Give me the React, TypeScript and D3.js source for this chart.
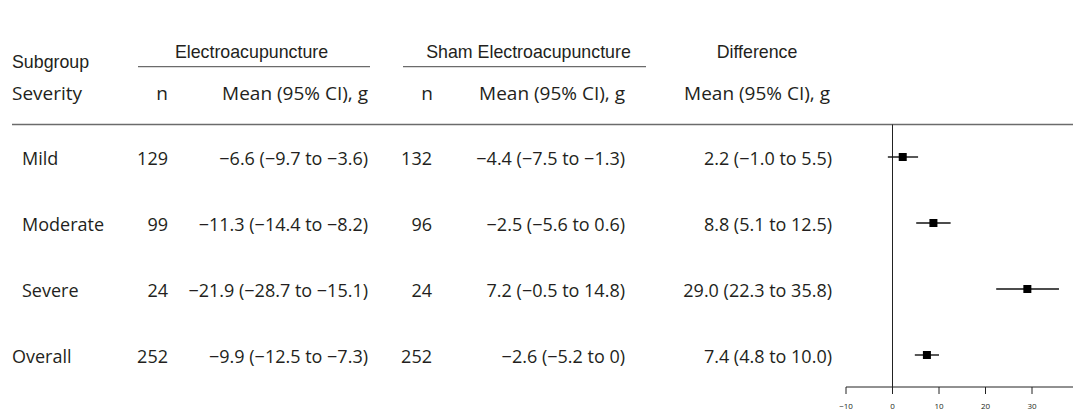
import React from "react";
import * as d3 from "d3";

const categories = ["Mild", "Moderate", "Severe", "Overall"];
const eaN = [129, 99, 24, 252];
const eaMean = [-6.6, -11.3, -21.9, -9.9];
const eaLo = [-9.7, -14.4, -28.7, -12.5];
const eaHi = [-3.6, -8.2, -15.1, -7.3];
const shamN = [132, 96, 24, 252];
const shamMean = [-4.4, -2.5, 7.2, -2.6];
const shamLo = [-7.5, -5.6, -0.5, -5.2];
const shamHi = [-1.3, 0.6, 14.8, 0];
const diffMean = [2.2, 8.8, 29.0, 7.4];
const diffLo = [-1.0, 5.1, 22.3, 4.8];
const diffHi = [5.5, 12.5, 35.8, 10.0];
const axisTicks = [-10, 0, 10, 20, 30];

const W = 1073;
const H = 411;
const f1 = d3.format(".1f");
const fmt = (v: number) => (v === 0 ? "0" : f1(v));
const ci = (m: number, lo: number, hi: number) => `${fmt(m)} (${fmt(lo)} to ${fmt(hi)})`;

const headFont = "'Liberation Sans', Arial, sans-serif";
const bodyFont = "'Open Sans', 'Noto Sans', sans-serif";
const txt = "#231f20";
const rule = "#6b6b6b";

export default function App() {
  const y = d3.scalePoint<string>().domain(categories).range([157, 355]);
  const x = d3.scaleLinear().domain([-10, 40]).range([846, 1078.5]);
  const axisY = 387;
  const ruleY = 124.5;
  const bodySize = 18;
  const dyBody = 8;

  return (
    <svg width={W} height={H} style={{ position: "absolute", left: 0, top: 0, background: "#fff" }}>
      <rect x={0} y={0} width={W} height={H} fill="#fff" />
      {/* top header row */}
      <g fontFamily={headFont} fontSize={17.8} fill={txt}>
        <text x={12} y={68}>Subgroup</text>
        <text x={251.5} y={58} textAnchor="middle">Electroacupuncture</text>
        <text x={528.5} y={58} textAnchor="middle">Sham Electroacupuncture</text>
        <text x={757} y={58} textAnchor="middle">Difference</text>
      </g>
      <line x1={138} x2={370} y1={66.7} y2={66.7} stroke={rule} strokeWidth={1.3} />
      <line x1={403} x2={646} y1={66.7} y2={66.7} stroke={rule} strokeWidth={1.3} />
      {/* second header row */}
      <g fontFamily={bodyFont} fontSize={19} fill={txt}>
        <text x={12} y={100}>Severity</text>
        <text x={168} y={100} textAnchor="end">n</text>
        <text x={368} y={100} textAnchor="end">Mean (95% CI), g</text>
        <text x={433} y={100} textAnchor="end">n</text>
        <text x={625} y={100} textAnchor="end">Mean (95% CI), g</text>
        <text x={830} y={100} textAnchor="end">Mean (95% CI), g</text>
      </g>
      <line x1={12} x2={W} y1={ruleY} y2={ruleY} stroke={rule} strokeWidth={1.5} />
      {/* body rows */}
      <g fontFamily={bodyFont} fontSize={bodySize} fill={txt}>
        {categories.map((c, i) => (
          <g key={c}>
            <text x={c === "Overall" ? 12 : 22} y={(y(c) as number) + dyBody}>{c}</text>
            <text x={168} y={(y(c) as number) + dyBody} textAnchor="end">{eaN[i]}</text>
            <text x={368} y={(y(c) as number) + dyBody} textAnchor="end">{ci(eaMean[i], eaLo[i], eaHi[i])}</text>
            <text x={432} y={(y(c) as number) + dyBody} textAnchor="end">{shamN[i]}</text>
            <text x={625} y={(y(c) as number) + dyBody} textAnchor="end">{ci(shamMean[i], shamLo[i], shamHi[i])}</text>
            <text x={832} y={(y(c) as number) + dyBody} textAnchor="end">{ci(diffMean[i], diffLo[i], diffHi[i])}</text>
          </g>
        ))}
      </g>
      {/* forest plot */}
      <line x1={x(0)} x2={x(0)} y1={ruleY} y2={axisY} stroke="#222" strokeWidth={1} />
      {categories.map((c, i) => (
        <g key={c}>
          <line x1={x(diffLo[i])} x2={x(diffHi[i])} y1={y(c)} y2={y(c)} stroke="#111" strokeWidth={1.4} />
          <rect x={x(diffMean[i]) - 4} y={(y(c) as number) - 4} width={8} height={8} fill="#000" />
        </g>
      ))}
      <g>
        <line x1={x(-10)} x2={W} y1={axisY} y2={axisY} stroke="#222" strokeWidth={1} />
        {axisTicks.map((t) => (
          <g key={t}>
            <line x1={x(t)} x2={x(t)} y1={axisY} y2={axisY + 7} stroke="#222" strokeWidth={1} />
            <text x={x(t)} y={axisY + 22} textAnchor="middle" fontFamily={bodyFont} fontSize={8} fill={txt}>
              {d3.format("")(t)}
            </text>
          </g>
        ))}
      </g>
    </svg>
  );
}
